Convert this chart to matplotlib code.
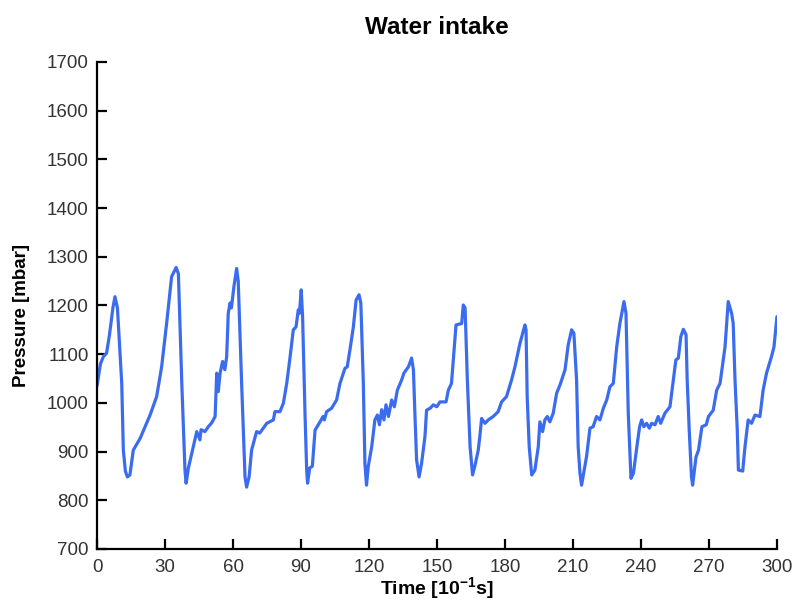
"""Water intake pressure trace."""

import matplotlib
matplotlib.use("Agg")
import matplotlib.pyplot as plt

# time in units of 0.1 s, pressure in mbar
time = [
    0, 1.5, 2.8, 4.2, 5.5, 7.0, 7.9, 9.0, 10.9, 11.6, 12.5, 13.4, 14.5, 16, 19,
    23.4, 26.3, 28.5, 30.7, 32.9, 34.9, 35.9, 37.4, 38.8, 39.3, 40.3, 42.5, 44,
    45.4, 45.9, 47.6, 49.1, 50.6, 52.1, 52.8, 53.5, 54.3, 55.4, 56.4, 57.2, 57.9,
    58.7, 59.3, 60.4, 61.6, 62.3, 63.8, 65.3, 66.0, 67.1, 68.2, 70.4, 71.8, 74.9,
    77.8, 78.5, 80.7, 82.2, 83.7, 85.2, 86.6, 87.8, 88.8, 89.3, 90.1, 90.7, 91.8,
    92.5, 92.9, 93.8, 95, 96.2, 98.4, 99.7, 100.3, 101.3, 103.5, 105.7, 107.2,
    109.4, 110.4, 111.6, 113.1, 114.3, 115.6, 116.4, 117.5, 118.2, 118.9, 119.7,
    121.2, 122.6, 123.7, 124.6, 125.6, 126.6, 127.5, 128.6, 130.0, 131.2, 132.5,
    134.4, 135.4, 137.4, 138.8, 139.6, 140.3, 141, 142.1, 143.2, 144.7, 145.4,
    147, 148.4, 149.9, 151.3, 154, 155, 156.4, 157.2, 158.4, 160.9, 161.6, 162.4,
    163.4, 164.6, 165.7, 166.8, 168.2, 168.9, 169.7, 171.2, 172.6, 174.8, 177,
    178.5, 180.7, 182.9, 184.4, 186.6, 188.8, 189.3, 189.8, 190.7, 191.8, 193.2,
    194.7, 195.4, 196.6, 197.6, 198.7, 199.8, 201.3, 202.8, 204.3, 206.5, 207.9,
    209.4, 210.4, 211.6, 212.3, 213.1, 213.8, 214.8, 216, 217.5, 218.9, 220.4,
    221.9, 223.4, 224.9, 226.3, 227.8, 229.3, 230.7, 232.5, 233.4, 234.4, 235.6,
    236.7, 238.2, 239.4, 240.3, 241.3, 242.5, 243.7, 244.7, 246.2, 247.6, 248.7,
    250.6, 252.8, 254.3, 255.4, 256.5, 257.6, 258.7, 259.9, 260.4, 261.3, 262.3,
    262.8, 264.3, 265.4, 266.9, 268.8, 269.8, 271.9, 273.4, 274.9, 277.1, 278.5,
    280, 280.7, 281.5, 282.5, 283, 284.9, 285.9, 287.3, 288.8, 290.3, 292.5,
    293.9, 295.4, 297.6, 298.7, 300,
]
pressure = [
    1035, 1080, 1095, 1102, 1140, 1195, 1218, 1195, 1040, 903, 860, 848, 852, 903,
    927, 975, 1013, 1074, 1163, 1259, 1278, 1265, 1040, 862, 835, 866, 910, 941,
    924, 945, 941, 951, 959, 972, 1061, 1023, 1061, 1085, 1068, 1095, 1184, 1205,
    1195, 1239, 1276, 1250, 1040, 848, 827, 848, 903, 941, 938, 958, 965, 982,
    982, 999, 1040, 1095, 1150, 1156, 1191, 1184, 1232, 1177, 972, 862, 835, 866,
    870, 944, 961, 972, 965, 982, 989, 1006, 1040, 1071, 1074, 1109, 1156, 1211,
    1222, 1205, 1040, 876, 831, 870, 910, 965, 975, 955, 986, 965, 996, 972, 1006,
    992, 1026, 1047, 1061, 1074, 1092, 1068, 972, 883, 848, 876, 931, 985, 989,
    996, 992, 1002, 1002, 1026, 1040, 1088, 1160, 1163, 1201, 1195, 1047, 910, 852,
    872, 903, 931, 968, 958, 965, 972, 982, 1002, 1013, 1047, 1074, 1122, 1160,
    1150, 1013, 910, 852, 862, 910, 961, 941, 965, 972, 961, 979, 1020, 1037, 1068,
    1119, 1150, 1143, 1047, 910, 855, 831, 858, 890, 948, 951, 972, 965, 989, 1006,
    1033, 1040, 1115, 1163, 1208, 1184, 979, 845, 856, 910, 951, 965, 951, 958,
    948, 958, 955, 972, 958, 979, 992, 1047, 1088, 1092, 1136, 1151, 1140, 1047,
    944, 848, 831, 889, 903, 951, 955, 972, 985, 1026, 1040, 1115, 1208, 1184,
    1163, 1047, 944, 862, 860, 910, 965, 958, 975, 972, 1026, 1061, 1095, 1115,
    1177,
]
x_ticks = list(range(0, 301, 30))
y_ticks = list(range(700, 1701, 100))

plt.rcParams["font.family"] = ["Liberation Sans", "DejaVu Sans"]
plt.rcParams["mathtext.fontset"] = "custom"
plt.rcParams["mathtext.bf"] = "Liberation Sans:bold"
plt.rcParams["mathtext.rm"] = "Liberation Sans"

fig = plt.figure(figsize=(7.98, 6.05), dpi=100)
ax = fig.add_axes([0.1216, 0.0926, 0.852, 0.805])

ax.plot(time, pressure, color="#3b6cf0", linewidth=2.3,
        solid_joinstyle="round", solid_capstyle="round")

ax.set_xlim(0, 300)
ax.set_ylim(700, 1700)
ax.set_xticks(x_ticks)
ax.set_yticks(y_ticks)

for side in ("top", "right"):
    ax.spines[side].set_visible(False)
for side in ("left", "bottom"):
    ax.spines[side].set_linewidth(1.6)
ax.tick_params(direction="in", length=7, width=1.6, labelsize=13.5,
               color="black", labelcolor="#333333")
ax.tick_params(axis="x", pad=7)
ax.tick_params(axis="y", pad=6)

ax.set_title("Water intake", fontsize=17.5, fontweight="bold", pad=20)
ax.set_xlabel(r"Time [10$^{\mathbf{-1}}$s]", fontsize=14, fontweight="bold", labelpad=0)
ax.set_ylabel("Pressure [mbar]", fontsize=13.5, fontweight="bold")
ax.yaxis.set_label_coords(-0.098, 0.48)

fig.savefig("out.png", dpi=100)
